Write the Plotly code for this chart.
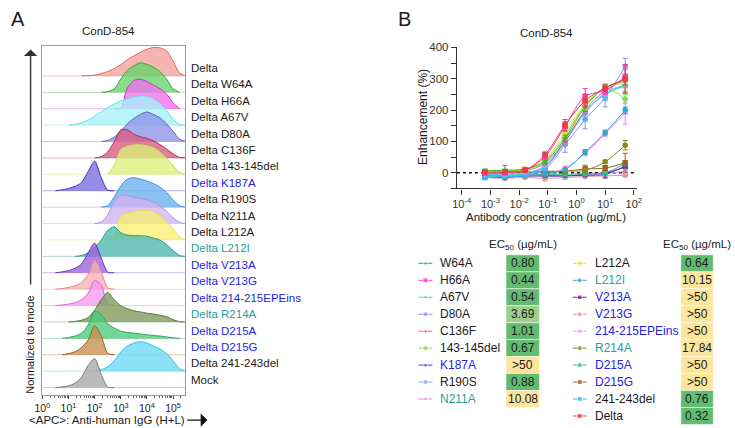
import plotly.graph_objects as go

FONT = "Liberation Sans, Arial, sans-serif"
W, H = 735, 428

# ---------------- Panel A: flow histograms ----------------
HIST_LOG_GRID = [0.0, 0.25, 0.5, 0.75, 1.0, 1.25, 1.5, 1.75, 2.0, 2.25, 2.5, 2.75,
                 3.0, 3.25, 3.5, 3.75, 4.0, 4.25, 4.5, 4.75, 5.0, 5.25, 5.5]
HIST_LABELS = ["Delta", "Delta W64A", "Delta H66A", "Delta A67V", "Delta D80A",
               "Delta C136F", "Delta 143-145del", "Delta K187A", "Delta R190S",
               "Delta N211A", "Delta L212A", "Delta L212I", "Delta V213A",
               "Delta V213G", "Delta 214-215EPEins", "Delta R214A", "Delta D215A",
               "Delta D215G", "Delta 241-243del", "Mock"]
BLK, BLU, TEA = "#1a1a1a", "#2222e8", "#22a0a0"
HIST_LABEL_COLORS = [BLK, BLK, BLK, BLK, BLK, BLK, BLK, BLU, BLK, BLK, BLK, TEA,
                     BLU, BLU, BLU, TEA, BLU, BLU, BLK, BLK]

h_delta = [0, 0, 0, 0, 0, 0, 0, 0.01, 0.03, 0.08, 0.15, 0.25, 0.38, 0.55, 0.68, 0.8, 0.9, 0.97, 0.95, 0.85, 0.5, 0.1, 0]
h_w64a = [0, 0, 0, 0, 0, 0, 0, 0, 0, 0, 0.03, 0.12, 0.45, 0.75, 0.9, 1.0, 0.95, 0.85, 0.7, 0.45, 0.12, 0, 0]
h_h66a = [0, 0, 0, 0, 0, 0, 0, 0, 0, 0, 0, 0, 0.03, 0.7, 0.95, 1.0, 0.92, 0.8, 0.68, 0.5, 0.2, 0, 0]
h_a67v = [0, 0, 0, 0, 0, 0.03, 0.08, 0.17, 0.3, 0.45, 0.6, 0.72, 0.82, 0.9, 0.95, 1.0, 0.97, 0.9, 0.75, 0.5, 0.2, 0.02, 0]
h_d80a = [0, 0, 0, 0, 0, 0, 0, 0, 0, 0, 0.04, 0.15, 0.35, 0.6, 0.78, 0.92, 1.0, 0.92, 0.8, 0.6, 0.35, 0.08, 0]
h_c136f = [0, 0, 0, 0, 0, 0, 0, 0, 0, 0.04, 0.2, 0.55, 0.95, 0.95, 0.8, 0.72, 0.66, 0.58, 0.45, 0.3, 0.14, 0.02, 0]
h_143del = [0, 0, 0, 0, 0, 0, 0, 0, 0, 0, 0, 0.3, 0.85, 0.95, 1.0, 1.0, 0.97, 0.9, 0.75, 0.55, 0.3, 0.06, 0]
h_k187a = [0, 0, 0, 0.03, 0.08, 0.15, 0.28, 0.65, 1.0, 0.45, 0.02, 0, 0, 0, 0, 0, 0, 0, 0, 0, 0, 0, 0]
h_r190s = [0, 0, 0, 0, 0, 0, 0, 0, 0, 0, 0.05, 0.35, 0.72, 0.95, 1.0, 0.95, 0.88, 0.8, 0.68, 0.5, 0.25, 0.05, 0]
h_n211a = [0, 0, 0, 0, 0, 0, 0, 0, 0, 0.05, 0.3, 0.75, 0.97, 0.95, 0.9, 0.85, 0.8, 0.72, 0.6, 0.42, 0.2, 0.04, 0]
h_l212a = [0, 0, 0, 0, 0, 0, 0, 0, 0, 0, 0, 0.1, 0.8, 0.9, 0.95, 1.0, 1.0, 0.95, 0.82, 0.62, 0.38, 0.1, 0]
h_l212i = [0, 0, 0, 0, 0, 0, 0.03, 0.12, 0.3, 0.55, 0.88, 1.0, 0.8, 0.72, 0.7, 0.7, 0.68, 0.62, 0.55, 0.4, 0.2, 0.03, 0]
h_v213a = [0, 0, 0, 0.03, 0.07, 0.15, 0.3, 0.68, 1.0, 0.5, 0.02, 0, 0, 0, 0, 0, 0, 0, 0, 0, 0, 0, 0]
h_v213g = [0, 0, 0, 0.02, 0.06, 0.12, 0.22, 0.5, 1.0, 0.6, 0.04, 0, 0, 0, 0, 0, 0, 0, 0, 0, 0, 0, 0]
h_epeins = [0, 0, 0, 0.02, 0.05, 0.1, 0.2, 0.42, 0.85, 0.7, 0.05, 0, 0, 0, 0, 0, 0, 0, 0, 0, 0, 0, 0]
h_r214a = [0, 0, 0, 0, 0, 0.02, 0.06, 0.15, 0.4, 0.75, 1.0, 0.75, 0.55, 0.45, 0.38, 0.34, 0.3, 0.27, 0.23, 0.18, 0.08, 0.01, 0]
h_d215a = [0, 0, 0, 0, 0.03, 0.08, 0.18, 0.45, 0.92, 0.8, 0.5, 0.35, 0.25, 0.2, 0.18, 0.15, 0.12, 0.1, 0.08, 0.05, 0.02, 0, 0]
h_d215g = [0, 0, 0, 0, 0.04, 0.1, 0.25, 0.5, 0.98, 0.65, 0.05, 0, 0, 0, 0, 0, 0, 0, 0, 0, 0, 0, 0]
h_241del = [0, 0, 0, 0, 0, 0, 0, 0, 0, 0.05, 0.15, 0.35, 0.65, 0.85, 0.95, 1.0, 0.95, 0.85, 0.75, 0.6, 0.35, 0.08, 0]
h_mock = [0, 0, 0, 0.02, 0.06, 0.15, 0.35, 0.75, 0.98, 0.45, 0.02, 0, 0, 0, 0, 0, 0, 0, 0, 0, 0, 0, 0]
HIST_DENSITIES = [h_delta, h_w64a, h_h66a, h_a67v, h_d80a, h_c136f, h_143del, h_k187a,
                  h_r190s, h_n211a, h_l212a, h_l212i, h_v213a, h_v213g, h_epeins,
                  h_r214a, h_d215a, h_d215g, h_241del, h_mock]
HIST_FILL = ["#f4a09a", "#66d466", "#f070f0", "#a6f2f6", "#8c94e8", "#d95a80",
             "#dcf07a", "#7b6be0", "#6ab0ee", "#d2b4f2", "#f8f070", "#4db8b0",
             "#9a60e0", "#f7b0b0", "#f59af0", "#7c9a5a", "#4cc97a", "#c8904a",
             "#6ad8f2", "#a8a8a8"]
HIST_LINE = ["#e06666", "#33aa33", "#d030d0", "#5ee0e8", "#5a60c8", "#b02850",
             "#c0e050", "#3a2fc0", "#4a90dd", "#b090e0", "#eee040", "#2a9890",
             "#6a30c0", "#e88080", "#e060e0", "#5a7a38", "#2aaa5a", "#a06020",
             "#30c0e8", "#777777"]
HIST_TICKS = [1, 10, 100, 1000, 10000, 100000]
HIST_TICKTEXT = ["10<sup>0</sup>", "10<sup>1</sup>", "10<sup>2</sup>",
                 "10<sup>3</sup>", "10<sup>4</sup>", "10<sup>5</sup>"]

# ---------------- Panel B: dose-response ----------------
CONC = [0.00064, 0.0032, 0.016, 0.08, 0.4, 2, 10, 50]
c_w64a = [6, 8, 12, 35, 110, 210, 272, 292]
c_h66a = [-2, 0, 8, 52, 148, 244, 262, 305]
c_a67v = [-12, -10, -5, 20, 100, 190, 255, 280]
c_d80a = [-10, -12, -8, 12, 90, 170, 240, 340]
c_c136f = [0, 2, 6, 30, 100, 200, 262, 300]
c_143del = [2, 5, 10, 38, 118, 215, 268, 235]
c_k187a = [-12, -15, -10, -10, -10, -8, -5, 22]
c_r190s = [-5, -5, 0, 22, 105, 195, 250, 280]
c_n211a = [-10, -10, -8, -5, 15, 62, 125, 190]
c_l212a = [0, 5, 12, 42, 128, 218, 272, 285]
c_l212i = [-10, -10, -10, -3, 10, 66, 128, 200]
c_v213a = [-8, -10, -10, -10, -10, -5, 0, 18]
c_v213g = [-15, -18, -15, -18, -15, -12, -10, -8]
c_epeins = [-5, -8, -8, -5, -10, -8, -3, 5]
c_r214a = [0, 0, 2, 2, 5, 8, 35, 88]
c_d215a = [-5, -5, -5, -5, -5, -3, 0, 30]
c_d215g = [2, 2, 2, 5, 5, 12, 15, 32]
c_241del = [-15, -12, -8, 18, 100, 195, 250, 278]
c_delta = [2, 3, 8, 58, 152, 230, 270, 300]

e_w64a = [6, 15, 5, 6, 10, 15, 10, 12]
e_h66a = [4, 4, 4, 8, 15, 25, 12, 25]
e_a67v = [4, 4, 4, 5, 12, 25, 20, 20]
e_d80a = [4, 5, 4, 5, 25, 30, 30, 25]
e_c136f = [4, 4, 4, 6, 12, 15, 12, 15]
e_143del = [4, 4, 4, 6, 12, 15, 12, 15]
e_k187a = [4, 5, 4, 4, 4, 5, 12, 5]
e_r190s = [4, 4, 4, 5, 10, 15, 15, 20]
e_n211a = [4, 4, 4, 4, 6, 8, 10, 35]
e_l212a = [4, 4, 4, 6, 10, 15, 12, 15]
e_l212i = [4, 4, 4, 4, 5, 8, 8, 10]
e_v213a = [4, 4, 4, 4, 4, 4, 5, 5]
e_v213g = [4, 4, 4, 8, 4, 4, 4, 4]
e_epeins = [4, 4, 4, 4, 4, 4, 4, 4]
e_r214a = [4, 4, 4, 4, 4, 4, 5, 15]
e_d215a = [4, 4, 4, 4, 4, 4, 4, 8]
e_d215g = [4, 4, 4, 4, 8, 12, 8, 30]
e_241del = [4, 4, 4, 5, 12, 25, 20, 25]
e_delta = [4, 4, 4, 8, 18, 20, 10, 45]

CURVE_NAMES = ["W64A", "H66A", "A67V", "D80A", "C136F", "143-145del", "K187A", "R190S",
               "N211A", "L212A", "L212I", "V213A", "V213G", "214-215EPEins", "R214A",
               "D215A", "D215G", "241-243del", "Delta"]
CURVE_VALUES = [c_w64a, c_h66a, c_a67v, c_d80a, c_c136f, c_143del, c_k187a, c_r190s,
                c_n211a, c_l212a, c_l212i, c_v213a, c_v213g, c_epeins, c_r214a,
                c_d215a, c_d215g, c_241del, c_delta]
CURVE_ERRORS = [e_w64a, e_h66a, e_a67v, e_d80a, e_c136f, e_143del, e_k187a, e_r190s,
                e_n211a, e_l212a, e_l212i, e_v213a, e_v213g, e_epeins, e_r214a,
                e_d215a, e_d215g, e_241del, e_delta]
CURVE_COLORS = ["#2db82d", "#f03cc8", "#2ed8e8", "#8f8ff0", "#f0608a", "#7ee04a",
                "#3c3ce6", "#7fb2f0", "#ee80ee", "#e8e020", "#2fa8c8", "#7a1a8a",
                "#d99a90", "#f59cf0", "#8a8a10", "#22c28a", "#9a6224", "#30b8ee",
                "#f03a4a"]
CURVE_SYMBOLS = ["triangle-down", "square", "triangle-up", "circle", "triangle-down",
                 "diamond", "triangle-down", "circle", "triangle-up", "diamond", "circle",
                 "circle", "circle", "circle", "circle", "circle", "square", "square",
                 "square"]
EC50_TEXT = ["0.80", "0.44", "0.54", "3.69", "1.01", "0.67", ">50", "0.88", "10.08",
             "0.64", "10.15", ">50", ">50", ">50", "17.84", ">50", ">50", "0.76", "0.32"]
NAME_COLORS = [BLK, BLK, BLK, BLK, BLK, BLK, BLU, BLK, TEA,
               BLK, TEA, BLU, BLU, BLU, TEA, BLU, BLU, BLK, BLK]
CURVE_TICKS = [1e-4, 1e-3, 1e-2, 1e-1, 1, 10, 100]
CURVE_TICKTEXT = ["10<sup>-4</sup>", "10<sup>-3</sup>", "10<sup>-2</sup>",
                  "10<sup>-1</sup>", "10<sup>0</sup>", "10<sup>1</sup>", "10<sup>2</sup>"]


def rgba(hx, a):
    hx = hx.lstrip("#")
    r, g, b = int(hx[0:2], 16), int(hx[2:4], 16), int(hx[4:6], 16)
    return f"rgba({r},{g},{b},{a})"


fig = go.Figure()

# ----- histograms -----
NROW = len(HIST_LABELS)
PEAK = 1.8
hx = [10 ** v for v in HIST_LOG_GRID]
for i, dens in enumerate(HIST_DENSITIES):
    base = NROW - 1 - i
    fig.add_trace(go.Scatter(x=hx, y=[base] * len(hx), mode="lines",
                             line=dict(color=rgba(HIST_LINE[i], 0.45), width=0.8),
                             xaxis="x", yaxis="y", hoverinfo="skip"))
    nz = [k for k, d in enumerate(dens) if d > 0]
    k0, k1 = max(nz[0] - 1, 0), min(nz[-1] + 1, len(dens) - 1)
    fig.add_trace(go.Scatter(x=hx[k0:k1 + 1], y=[base + PEAK * d for d in dens[k0:k1 + 1]],
                             mode="lines", fill="tonexty",
                             fillcolor=rgba(HIST_FILL[i], 0.78),
                             line=dict(color=HIST_LINE[i], width=1, shape="spline",
                                       smoothing=0.8),
                             xaxis="x", yaxis="y", hoverinfo="skip"))

# ----- dose-response curves -----
fig.add_trace(go.Scatter(x=[10 ** -4.17, CURVE_TICKS[-1]], y=[0, 0], mode="lines",
                         line=dict(color="#111", width=1.3, dash="dot"),
                         xaxis="x2", yaxis="y2", hoverinfo="skip"))
order = [11, 12, 13, 6, 15, 16, 14, 8, 10, 3, 2, 17, 7, 4, 5, 9, 0, 1, 18]
for j in order:
    fig.add_trace(go.Scatter(
        x=CONC, y=CURVE_VALUES[j], mode="lines+markers",
        line=dict(color=CURVE_COLORS[j], width=1, shape="spline", smoothing=1.0),
        marker=dict(symbol=CURVE_SYMBOLS[j], color=CURVE_COLORS[j], size=5.5),
        error_y=dict(type="data", array=CURVE_ERRORS[j], color=CURVE_COLORS[j],
                     thickness=1, width=2.5),
        xaxis="x2", yaxis="y2", hoverinfo="skip"))

# ----- EC50 legend table (pixel overlay axes) -----
ROW0, ROWH = 261, 17.2
COLS = [dict(sym=425, lab=438, c0=507, c1=541, n=9),
        dict(sym=582, lab=596, c0=685, c1=718, n=10)]
shapes = []
annotations = []
idx = 0
for col in COLS:
    annotations.append(dict(x=(col["c0"] + col["c1"]) / 2, y=242, xref="x3", yref="y3",
                             text="EC<sub>50</sub> (µg/mL)", showarrow=False,
                             font=dict(size=11.5, color="#222", family=FONT)))
    for r in range(col["n"]):
        yc = ROW0 + r * ROWH
        fig.add_trace(go.Scatter(
            x=[col["sym"] - 7, col["sym"], col["sym"] + 7], y=[yc, yc, yc],
            mode="lines+markers", line=dict(color=CURVE_COLORS[idx], width=1),
            marker=dict(symbol=CURVE_SYMBOLS[idx], color=CURVE_COLORS[idx], size=[0, 5, 0]),
            xaxis="x3", yaxis="y3", hoverinfo="skip"))
        annotations.append(dict(x=col["lab"], y=yc, xref="x3", yref="y3", xanchor="left",
                                text=CURVE_NAMES[idx], showarrow=False,
                                font=dict(size=12, color=NAME_COLORS[idx], family=FONT)))
        t = EC50_TEXT[idx]
        v = 100.0 if t.startswith(">") else float(t)
        cell = "#fde59b" if v >= 10 else ("#9dd08a" if v >= 2 else "#63bb72")
        shapes.append(dict(type="rect", xref="x3", yref="y3", x0=col["c0"], x1=col["c1"],
                           y0=yc - ROWH / 2, y1=yc + ROWH / 2, fillcolor=cell,
                           line=dict(color="rgba(255,255,255,0.5)", width=1), layer="below"))
        annotations.append(dict(x=(col["c0"] + col["c1"]) / 2, y=yc, xref="x3", yref="y3",
                                text=t, showarrow=False,
                                font=dict(size=12, color="#1a1a1a", family=FONT)))
        idx += 1

# ----- titles / labels -----
def txt(x, y, s, size, **kw):
    d = dict(x=x, y=y, xref="x3", yref="y3", text=s, showarrow=False,
             font=dict(size=size, color=kw.pop("color", "#1a1a1a"), family=FONT))
    d.update(kw)
    annotations.append(d)

txt(10, 13, "A", 20)
txt(404, 13, "B", 20)
txt(102, 25, "ConD-854", 11.5)
txt(548, 27, "ConD-854", 11.5)
txt(548, 214, "Antibody concentration (µg/mL)", 11.5)
txt(423, 113, "Enhancement (%)", 12, textangle=-90)
txt(23, 344, "Normalized to mode", 11, textangle=-90)
txt(101, 420, "&lt;APC&gt;: Anti-human IgG (H+L)", 11.5)
# arrows
annotations.append(dict(x=23, y=44, ax=23, ay=284, xref="x3", yref="y3", axref="x3",
                        ayref="y3", text="", showarrow=True, arrowhead=1, arrowsize=1.6,
                        arrowwidth=1.4, arrowcolor="#333"))
annotations.append(dict(x=203, y=420, ax=181, ay=420, xref="x3", yref="y3", axref="x3",
                        ayref="y3", text="", showarrow=True, arrowhead=1, arrowsize=1.6,
                        arrowwidth=1.4, arrowcolor="#111"))

for i, lab in enumerate(HIST_LABELS):
    annotations.append(dict(x=184 / W, y=NROW - 1 - i + 0.48, xref="paper", yref="y",
                            xanchor="left", text=lab, showarrow=False,
                            font=dict(size=11.5, color=HIST_LABEL_COLORS[i], family=FONT)))

minor_hist = [k * 10 ** d for d in range(0, 6) for k in range(2, 10)]

fig.update_layout(
    width=W, height=H, margin=dict(l=0, r=0, t=0, b=0),
    paper_bgcolor="white", plot_bgcolor="rgba(0,0,0,0)", showlegend=False,
    font=dict(family=FONT, size=11, color="#222"),
    xaxis=dict(domain=[35 / W, 180 / W], type="log", range=[0, 5.45], anchor="y",
               tickvals=HIST_TICKS, ticktext=HIST_TICKTEXT, ticks="outside", ticklen=3,
               tickcolor="#444", showline=True, linecolor="#999", mirror=True,
               showgrid=False, zeroline=False, tickfont=dict(size=10.5, color="#222"),
               minor=dict(ticks="outside", ticklen=2, tickcolor="#666",
                          tickvals=minor_hist, showgrid=False)),
    yaxis=dict(domain=[1 - 395 / H, 1 - 41 / H], range=[-0.48, 20.8], anchor="x",
               showticklabels=False, ticks="", showline=True, linecolor="#999",
               mirror=True, showgrid=False, zeroline=False),
    xaxis2=dict(domain=[457 / W, 640 / W], type="log", range=[-4.17, 2.1], anchor="y2",
                tickvals=CURVE_TICKS, ticktext=CURVE_TICKTEXT, ticks="outside", ticklen=5,
                tickcolor="#333", showline=True, linecolor="#333", linewidth=1.2,
                showgrid=False, zeroline=False, tickfont=dict(size=11, color="#333")),
    yaxis2=dict(domain=[1 - 185 / H, 1 - 42 / H], range=[-50, 400], anchor="x2",
                tickvals=[0, 100, 200, 300, 400], ticks="outside", ticklen=5,
                tickcolor="#333", showline=True, linecolor="#333", linewidth=1.2,
                showgrid=False, zeroline=False, tickfont=dict(size=11.5, color="#333"),
                minor=dict(ticks="outside", ticklen=5, dtick=50, tick0=0,
                           tickcolor="#333", showgrid=False)),
    xaxis3=dict(domain=[0, 1], range=[0, W], visible=False, anchor="y3", fixedrange=True),
    yaxis3=dict(domain=[0, 1], range=[H, 0], visible=False, anchor="x3", fixedrange=True),
    shapes=shapes, annotations=annotations,
)

fig.write_html("out.html")
